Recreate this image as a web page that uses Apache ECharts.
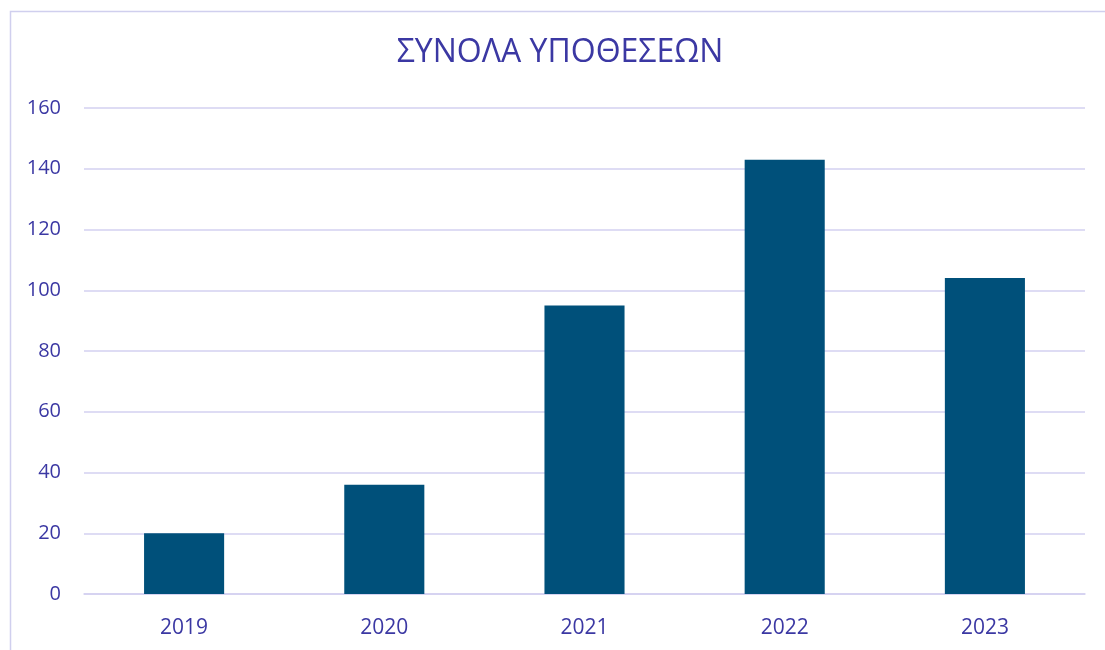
<!DOCTYPE html>
<html>
<head>
<meta charset="utf-8">
<script src="https://cdn.jsdelivr.net/npm/echarts@6/dist/echarts.min.js"></script>
<style>html,body{margin:0;padding:0;background:#fff;}#c{width:1105px;height:650px;}</style>
</head>
<body>
<div id="c"></div>
<script>
const categories = ['2019', '2020', '2021', '2022', '2023'];
const values = [20, 36, 95, 143, 104];
const titleText = 'ΣΥΝΟΛΑ ΥΠΟΘΕΣΕΩΝ';

const chart = echarts.init(document.getElementById('c'), null, {renderer: 'canvas'});
const txt = '#3b38a3';
const gridCol = '#d3d0f0';
const ff = '"Open Sans", "Noto Sans", sans-serif';
chart.setOption({
  animation: false,
  backgroundColor: '#fff',
  graphic: [{
    type: 'rect', left: 8, top: 9, silent: true,
    shape: {x: 0, y: 0, width: 1200, height: 700},
    style: {fill: 'none', stroke: '#d0cfee', lineWidth: 1.5}
  }, {
    type: 'text', x: 560, y: 53, silent: true,
    style: {text: titleText, fill: txt, fontSize: 32, fontFamily: ff, align: 'center', verticalAlign: 'middle'}
  }],
  grid: {left: 84, right: 20, top: 108, bottom: 56, containLabel: false},
  xAxis: {
    type: 'category', data: categories,
    axisLine: {lineStyle: {color: gridCol, width: 1.5}},
    axisTick: {show: false},
    axisLabel: {color: txt, fontSize: 21, fontFamily: ff, margin: 24}
  },
  yAxis: {
    type: 'value', min: 0, max: 160, interval: 20,
    axisLine: {show: false}, axisTick: {show: false},
    splitLine: {lineStyle: {color: gridCol, width: 1.5}},
    axisLabel: {color: txt, fontSize: 20, fontFamily: ff, margin: 23}
  },
  series: [{
    type: 'bar', data: values, barWidth: '40%',
    itemStyle: {color: '#00507a'}
  }]
});
</script>
</body>
</html>
